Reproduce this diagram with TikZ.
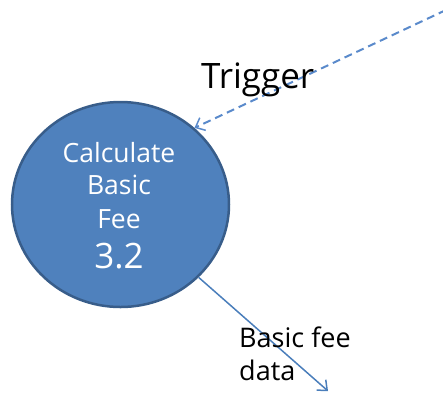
\documentclass[tikz,border=0pt]{standalone}
\usepackage{fontspec}
\setmainfont{Open Sans}
\usetikzlibrary{arrows.meta,shapes.geometric}
\definecolor{bfill}{HTML}{4F81BD}
\definecolor{bdraw}{HTML}{385D8A}
\definecolor{bline}{HTML}{4A7EBB}
\definecolor{bdash}{HTML}{5A8ACB}
\tikzset{
  proc/.style={ellipse, draw=bdraw, fill=bfill, line width=2.5pt, minimum width=217pt, minimum height=205pt, inner sep=0pt},
  intext/.style={text=white, anchor=base, inner sep=0pt, font=\fontsize{26.5pt}{30pt}\selectfont},
  flow/.style={draw=bline, line width=1.5pt, -{Straight Barb[length=8pt,width=14pt,line width=1.5pt]}},
  lab/.style={anchor=base west, inner sep=0pt, text=black}
}
\begin{document}
\begin{tikzpicture}[x=1pt,y=-1pt]
\useasboundingbox (0,0) rectangle (443,392);
\node[proc] (c) at (120.5,204.5) {};
\node[intext] (t1) at (119,162) {Calculate};
\node[intext] (t2) at (119,194) {Basic};
\node[intext] (t3) at (119,228) {Fee};
\node[intext, font=\fontsize{35pt}{40pt}\selectfont] (t4) at (119,268) {3.2};
\coordinate (src) at (446,10);
\coordinate (dst) at (328,391);
\draw[flow, draw=bdash, line width=2pt, dash pattern=on 8pt off 5pt] (src) -- (c.46);
\draw[flow] (c.-43.5) -- (dst);
\node[lab, font=\fontsize{35pt}{40pt}\selectfont] (trig) at (201,88) {Trigger};
\node[lab, font=\fontsize{27pt}{33pt}\selectfont] (bf1) at (239,347) {Basic fee};
\node[lab, font=\fontsize{27pt}{33pt}\selectfont] (bf2) at (239,380) {data};
\end{tikzpicture}
\end{document}
